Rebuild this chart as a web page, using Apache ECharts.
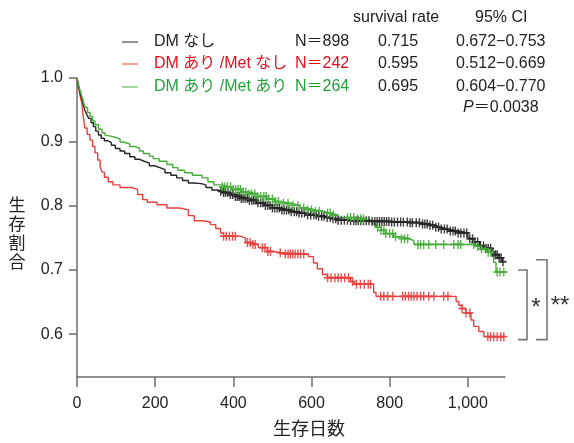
<!DOCTYPE html>
<html>
<head>
<meta charset="utf-8" />
<title></title>
<script src="https://cdn.jsdelivr.net/npm/echarts@6/dist/echarts.min.js"></script>
</head>
<body style="margin:0;background:#fff;">
<div id="main" style="width:574px;height:443px;"></div>
<script type="text/javascript">
    // 表の中身
    var groupNames = ['DM なし', 'DM あり /Met なし', 'DM あり /Met あり'];
    var groupN = ['N＝898', 'N＝242', 'N＝264'];
    var survRate = ['0.715', '0.595', '0.695'];
    var ci95 = ['0.672−0.753', '0.512−0.669', '0.604−0.770'];
    var pValue = '0.0038';
    var colors = ['#262626', '#e8403e', '#46ad3a'];
    var xTicks = [0, 200, 400, 600, 800, 1000];
    var yTicks = [0.6, 0.7, 0.8, 0.9, 1.0];

    // KM曲線 [日数, 生存割合]
    var kmNoDM = [[0,1],[3,0.99],[6,0.982],[8,0.977],[12,0.968],[16,0.958],[20,0.95],[25,0.943],[30,0.937],[36,0.93],
        [42,0.924],[48,0.917],[55,0.911],[62,0.906],[70,0.902],[78,0.899],[88,0.895],[98,0.89],[110,0.886],[122,0.882],
        [135,0.877],[148,0.873],[160,0.87],[172,0.867],[185,0.863],[198,0.86],[212,0.857],[225,0.852],[240,0.848],[255,0.844],
        [270,0.84],[285,0.836],[300,0.835],[318,0.833],[330,0.829],[345,0.825],[360,0.823],[375,0.821],[390,0.818],[405,0.815],
        [420,0.812],[440,0.809],[460,0.805],[480,0.801],[500,0.797],[520,0.794],[545,0.791],[565,0.789],[590,0.786],[615,0.784],
        [635,0.782],[650,0.78],[668,0.778],[700,0.777],[750,0.776],[800,0.775],[850,0.774],[880,0.772],[900,0.77],[915,0.767],
        [930,0.764],[950,0.761],[975,0.758],[1000,0.749],[1015,0.744],[1030,0.738],[1045,0.734],[1060,0.728],[1070,0.724],
        [1080,0.719],[1088,0.713]];
    var kmMetNo = [[0,1],[4,0.985],[8,0.972],[12,0.961],[16,0.94],[20,0.922],[26,0.912],[33,0.903],[40,0.893],[46,0.883],
        [53,0.872],[59,0.862],[64,0.853],[70,0.845],[80,0.838],[92,0.833],[110,0.829],[140,0.826],[155,0.818],[168,0.81],
        [180,0.806],[205,0.802],[230,0.797],[262,0.794],[285,0.785],[300,0.777],[320,0.775],[341,0.771],[355,0.765],[367,0.758],
        [375,0.753],[418,0.75],[431,0.743],[446,0.74],[464,0.735],[487,0.729],[503,0.727],[525,0.725],[592,0.721],[605,0.711],
        [615,0.702],[628,0.693],[641,0.688],[700,0.682],[708,0.678],[759,0.665],[765,0.659],[970,0.651],[977,0.645],[985,0.64],
        [995,0.633],[1008,0.622],[1015,0.612],[1028,0.604],[1041,0.596]];
    var kmMetYes = [[0,1],[4,0.99],[8,0.98],[13,0.97],[17,0.961],[21,0.954],[27,0.946],[33,0.94],[40,0.933],[46,0.927],
        [55,0.92],[64,0.914],[72,0.91],[80,0.907],[100,0.905],[110,0.9],[118,0.897],[135,0.893],[150,0.89],[160,0.886],
        [170,0.882],[185,0.878],[195,0.874],[210,0.87],[230,0.865],[245,0.86],[258,0.856],[275,0.852],[295,0.848],[320,0.844],
        [335,0.838],[350,0.833],[370,0.83],[395,0.826],[420,0.822],[440,0.819],[462,0.815],[485,0.811],[505,0.807],[525,0.804],
        [550,0.801],[570,0.797],[590,0.794],[610,0.792],[630,0.789],[650,0.786],[668,0.782],[710,0.78],[745,0.777],[755,0.772],
        [765,0.767],[778,0.762],[790,0.757],[810,0.752],[830,0.749],[848,0.746],[862,0.74],[1020,0.737],[1035,0.733],[1050,0.728],
        [1060,0.722],[1066,0.712],[1072,0.697]];

    // 打ち切り (日数)
    var censorNoDM = [368,375,380,386,392,398,405,410,415,420,425,430,436,441,447,452,458,463,470,476,482,488,494,500,506,
        512,518,524,530,536,542,548,556,562,568,575,582,590,598,606,612,618,626,632,640,648,655,662,668,676,684,692,700,
        708,714,720,726,733,740,747,755,762,768,774,780,786,792,798,805,812,820,828,835,845,852,858,868,876,884,890,896,
        903,910,918,925,932,940,947,955,962,968,975,982,990,997,1005,1012,1018,1025,1032,1040,1046,1052,1058,1064,1070,
        1075,1080,1085,1090];
    var censorMetNo = [375,382,390,398,405,436,443,450,456,474,481,488,495,520,533,540,546,552,558,565,572,580,641,650,
        660,668,676,685,695,705,715,725,735,745,751,777,785,795,808,833,840,848,855,862,870,879,887,900,913,938,949,
        985,995,1005,1051,1058,1066,1075,1084,1092];
    var censorMetYes = [372,378,385,393,400,406,412,418,425,432,440,447,455,462,470,478,484,490,500,508,515,528,540,552,
        565,580,590,600,610,620,641,648,656,692,700,708,718,726,733,769,778,785,790,800,808,815,830,838,846,872,879,887,
        900,918,938,964,975,982,1015,1025,1035,1045,1052,1059,1075,1082,1092];

    function survAt(curve, t) {
        var s = curve[0][1];
        for (var i = 0; i < curve.length; i++) {
            if (curve[i][0] <= t) s = curve[i][1];
        }
        return s;
    }
    function censorPoints(curve, days) {
        return days.map(function (d) { return [d, survAt(curve, d)]; });
    }
    function lineData(curve, days) {
        var last = days[days.length - 1];
        return curve.concat([[last, survAt(curve, last)]]);
    }

    var curves = [kmNoDM, kmMetNo, kmMetYes];
    var censors = [censorNoDM, censorMetNo, censorMetYes];
    var font = "'Liberation Sans', 'Noto Sans CJK JP', sans-serif";
    var plus = 'path://M-0.2,-1H0.2V-0.2H1V0.2H0.2V1H-0.2V0.2H-1V-0.2H-0.2Z';

    var series = [];
    [1, 0, 2].forEach(function (g) {
        series.push({
            type: 'line',
            step: 'end',
            showSymbol: false,
            silent: true,
            z: 2,
            lineStyle: { color: colors[g], width: 1.4 },
            data: lineData(curves[g], censors[g])
        });
        series.push({
            type: 'scatter',
            symbol: plus,
            symbolSize: [7, 9],
            silent: true,
            z: 3,
            itemStyle: { color: colors[g], opacity: 0.9 },
            data: censorPoints(curves[g], censors[g])
        });
    });

    // 凡例・表 (テキスト)
    var graphics = [];
    function txt(x, y, s, color) {
        graphics.push({ type: 'text', silent: true,
            style: { text: s, x: x, y: y, fill: color || '#222', font: '16px ' + font, verticalAlign: 'middle' } });
    }
    txt(353, 18, 'survival rate');
    txt(475, 18, '95% CI');
    var rowY = [42, 64, 87];
    for (var i = 0; i < 3; i++) {
        graphics.push({ type: 'line', shape: { x1: 122, y1: rowY[i], x2: 138, y2: rowY[i] },
            style: { stroke: colors[i], lineWidth: 1 }, silent: true });
        var c = i === 0 ? '#222' : (i === 1 ? '#e60f1e' : '#22a33a');
        txt(154, rowY[i], groupNames[i], c);
        txt(295, rowY[i], groupN[i], c);
        txt(378, rowY[i], survRate[i]);
        txt(456, rowY[i], ci95[i]);
    }
    graphics.push({ type: 'text', silent: true, style: {
        x: 463, y: 108, verticalAlign: 'middle',
        text: '{i|P}{n|＝' + pValue + '}',
        rich: { i: { font: 'italic 16px ' + font, fill: '#222' }, n: { font: '16px ' + font, fill: '#222' } }
    } });
    graphics.push({ type: 'text', silent: true, style: {
        x: 17, y: 235, text: '生\n存\n割\n合', align: 'center', verticalAlign: 'middle',
        font: '17px ' + font, lineHeight: 19, fill: '#222'
    } });
    graphics.push({ type: 'text', silent: true, style: {
        x: 309, y: 430, text: '生存日数', align: 'center', verticalAlign: 'middle',
        font: '18px ' + font, fill: '#222'
    } });

    var myChart = echarts.init(document.getElementById('main'));
    myChart.setOption({
        backgroundColor: '#fff',
        animation: false,
        grid: { left: 77, right: 69, top: 78, bottom: 66 },
        xAxis: {
            type: 'value', min: 0, max: 1095,
            splitLine: { show: false },
            axisLine: { lineStyle: { color: '#6e6e6e', width: 1.5 } },
            axisTick: { customValues: xTicks, length: 10, lineStyle: { color: '#6e6e6e', width: 1.5 } },
            axisLabel: {
                customValues: xTicks, margin: 19, color: '#222', fontSize: 16, fontFamily: font,
                formatter: function (v) { return v >= 1000 ? v.toLocaleString('en-US') : String(v); }
            }
        },
        yAxis: {
            type: 'value', min: 0.533, max: 1.0,
            splitLine: { show: false },
            axisLine: { show: true, lineStyle: { color: '#6e6e6e', width: 1.5 } },
            axisTick: { show: true, customValues: yTicks, length: 8, lineStyle: { color: '#6e6e6e', width: 1.5 } },
            axisLabel: {
                customValues: yTicks, margin: 14, color: '#222', fontSize: 16, fontFamily: font,
                formatter: function (v) { return v.toFixed(1); }
            }
        },
        series: series,
        graphic: graphics
    });

    // 有意差の括弧
    function py(v) { return myChart.convertToPixel({ gridIndex: 0 }, [0, v])[1]; }
    var redEnd = survAt(kmMetNo, 1092), greenEnd = survAt(kmMetYes, 1092), blackEnd = survAt(kmNoDM, 1092);
    var bottom = py(redEnd) + 3;
    function bracket(x1, x2, top) {
        return { type: 'polyline', silent: true,
            shape: { points: [[x1, top], [x2, top], [x2, bottom], [x1, bottom]] },
            style: { stroke: '#777', lineWidth: 1.6, fill: null } };
    }
    var yTop1 = py(greenEnd) - 2, yTop2 = py(blackEnd) - 2;
    myChart.setOption({
        graphic: graphics.concat([
            bracket(518, 527, yTop1),
            bracket(536, 547, yTop2),
            { type: 'text', silent: true, style: { x: 536, y: (yTop1 + bottom) / 2 + 4, text: '*', align: 'center',
                verticalAlign: 'middle', font: '24px ' + font, fill: '#333' } },
            { type: 'text', silent: true, style: { x: 560, y: (yTop2 + bottom) / 2 + 7, text: '**', align: 'center',
                verticalAlign: 'middle', font: '24px ' + font, fill: '#333' } }
        ])
    });
</script>
</body>
</html>
